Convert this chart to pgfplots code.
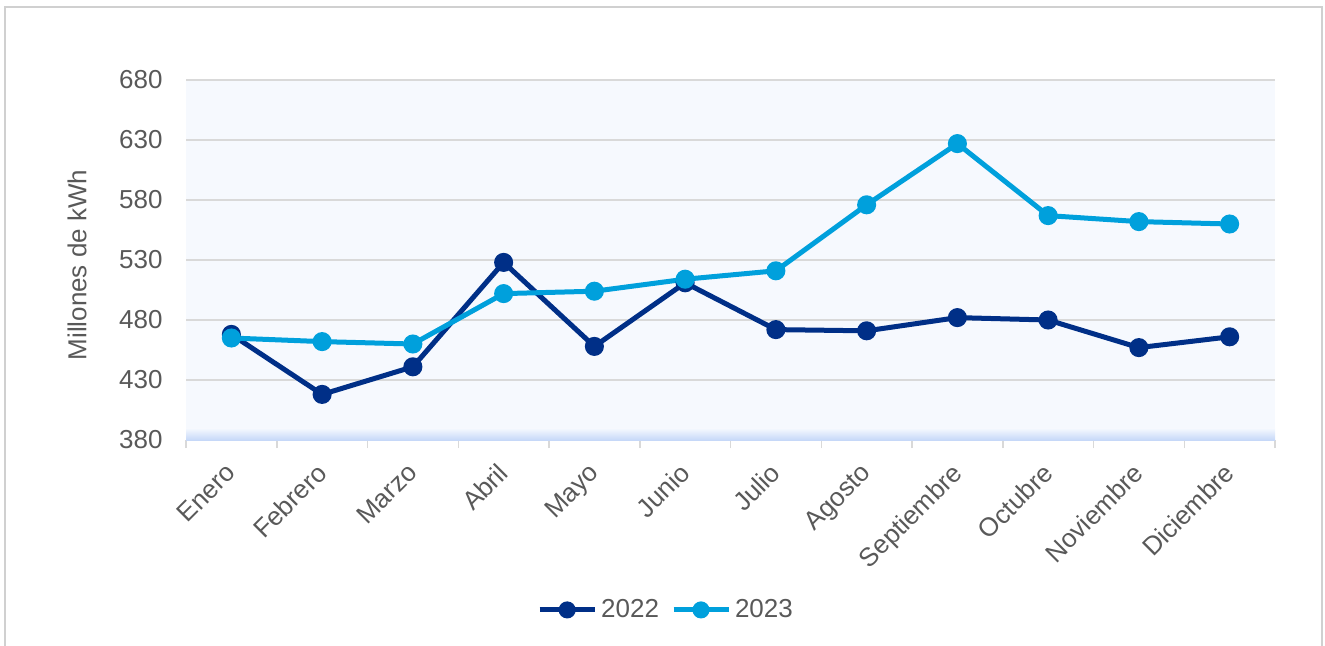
\documentclass[border=0pt]{standalone}
\usepackage{pgfplots}
\pgfplotsset{compat=1.18}
\usepackage{fontspec}
\setmainfont{Liberation Sans}
\definecolor{c22}{HTML}{002F87}
\definecolor{c23}{HTML}{00A0DC}
\definecolor{bgblue}{HTML}{F6F9FE}
\definecolor{bandblue}{HTML}{C6D8F8}
\definecolor{gridgray}{HTML}{D9D9D9}
\definecolor{txtgray}{HTML}{595959}
\definecolor{framegray}{HTML}{D0D0D0}
\begin{document}
\begin{tikzpicture}
\useasboundingbox (0pt,0pt) rectangle (662.5pt,322.5pt);
\draw[framegray, line width=0.75pt] (2.5pt,-5pt) -- (2.5pt,319pt) -- (661pt,319pt) -- (661pt,-5pt);
\begin{axis}[
  at={(93pt,102.5pt)}, anchor=south west,
  scale only axis, width=544.5pt, height=180pt,
  xmin=-0.5, xmax=11.5, ymin=380, ymax=680,
  xtick={0,...,11},
  minor xtick={-0.5,0.5,...,11.5},
  xticklabels={Enero,Febrero,Marzo,Abril,Mayo,Junio,Julio,Agosto,Septiembre,Octubre,Noviembre,Diciembre},
  ytick={380,430,...,680},
  axis lines*=left,
  y axis line style={draw=none},
  x axis line style={draw=gridgray, line width=0.75pt},
  major tick length=0pt,
  minor tick length=4pt,
  tick align=outside,
  minor tick style={draw=gridgray, line width=0.75pt},
  ymajorgrids, grid style={draw=gridgray, line width=0.75pt},
  axis background/.style={fill=bgblue},
  tick label style={font=\fontsize{13}{15}\selectfont, text=txtgray},
  /pgf/number format/assume math mode=true,
  yticklabel style={anchor=east, inner sep=0pt, xshift=-11.5pt},
  xticklabel style={rotate=45, anchor=north east, inner sep=0pt, xshift=-10pt, yshift=-5pt},
  ylabel={Millones de kWh},
  ylabel style={at={(axis description cs:-0.1001,0.486)}, anchor=center, font=\fontsize{13}{15}\selectfont, text=txtgray},
  legend style={at={(axis description cs:0.4417,-0.472)}, anchor=center, draw=none, fill=none,
    font=\fontsize{13}{15}\selectfont, text=txtgray, legend columns=2,
    /tikz/every even column/.append style={column sep=4pt}},
  legend cell align=left,
  legend image code/.code={\draw[mark repeat=2,mark phase=2,mark size=3pt,#1] plot coordinates {(0pt,0pt) (13.75pt,0pt) (27.5pt,0pt)};},
  clip=false,
]
\fill[bottom color=bandblue, top color=bgblue] (rel axis cs:0,0) rectangle (rel axis cs:1,0.033);
\addplot[c22, line width=2.5pt, mark=*, mark size=3.5pt, mark options={solid}] coordinates {
(0,468) (1,418) (2,441) (3,528) (4,458) (5,511) (6,472) (7,471) (8,482) (9,480) (10,457) (11,466)};
\addlegendentry{2022}
\addplot[c23, line width=2.5pt, mark=*, mark size=3.5pt, mark options={solid}] coordinates {
(0,465) (1,462) (2,460) (3,502) (4,504) (5,514) (6,521) (7,576) (8,627) (9,567) (10,562) (11,560)};
\addlegendentry{2023}
\end{axis}
\end{tikzpicture}
\end{document}
